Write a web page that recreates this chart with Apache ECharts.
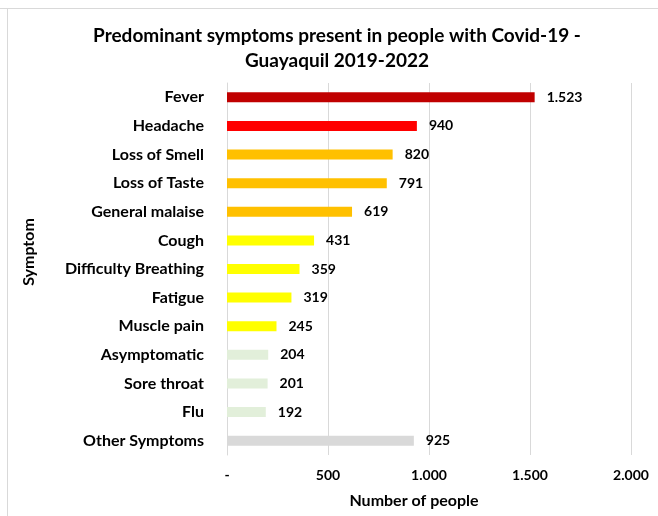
<!DOCTYPE html>
<html><head><meta charset="utf-8">
<script src="https://cdn.jsdelivr.net/npm/echarts@6/dist/echarts.min.js"></script>
<style>html,body{margin:0;padding:0;background:#fff}#c{width:658px;height:516px}</style>
</head><body><div id="c"></div>
<script>
const categories = ["Fever","Headache","Loss of Smell","Loss of Taste","General malaise","Cough","Difficulty Breathing","Fatigue","Muscle pain","Asymptomatic","Sore throat","Flu","Other Symptoms"];
const values = [1523,940,820,791,619,431,359,319,245,204,201,192,925];
const barColors = ["#C00000","#FF0000","#FFC000","#FFC000","#FFC000","#FFFF00","#FFFF00","#FFFF00","#FFFF00","#E2EFDA","#E2EFDA","#E2EFDA","#D9D9D9"];
const xTicks = [0,500,1000,1500,2000];
const titleText = "Predominant symptoms present in people with Covid-19 -\nGuayaquil 2019-2022";
const xName = "Number of people";
const yName = "Symptom";

const FONT = "Lato";
function fmt(v){ if(v===0) return "-"; return String(v).replace(/\B(?=(\d{3})+(?!\d))/g,"."); }

const chart = echarts.init(document.getElementById('c'));
chart.setOption({
  backgroundColor:'#fff',
  animation:false,
  title:{text:titleText,left:332,top:18,textAlign:'center',
    textStyle:{fontFamily:FONT,fontSize:19,fontWeight:'bold',color:'#000',lineHeight:25}},
  grid:{left:227,right:27,top:83,bottom:61,containLabel:false},
  xAxis:{type:'value',min:xTicks[0],max:xTicks[xTicks.length-1],interval:500,
    axisLine:{show:false},axisTick:{show:false},
    splitLine:{show:true,lineStyle:{color:'#D9D9D9',width:1}},
    axisLabel:{formatter:fmt,fontFamily:FONT,fontSize:14,fontWeight:'bold',color:'#000',margin:13},
    name:xName,nameLocation:'middle',nameGap:38,
    nameTextStyle:{fontFamily:FONT,fontSize:16,fontWeight:'bold',color:'#000',padding:[0,30,0,0]}},
  yAxis:{type:'category',data:categories,inverse:true,
    axisLine:{show:true,lineStyle:{color:'#D9D9D9'}},axisTick:{show:false},
    axisLabel:{fontFamily:FONT,fontSize:16,fontWeight:'bold',color:'#000',margin:23},
    name:yName,nameLocation:'middle',nameGap:190,nameRotate:90,
    nameTextStyle:{fontFamily:FONT,fontSize:16,fontWeight:'bold',color:'#000',padding:[0,0,0,34]}},
  series:[{type:'bar',data:values.map((v,i)=>({value:v,itemStyle:{color:barColors[i]}})),
    barWidth:10,
    label:{show:true,position:'right',distance:12,formatter:p=>fmt(p.value),
      fontFamily:FONT,fontSize:14,fontWeight:'bold',color:'#000'}}],
  graphic:[
    {type:'line',shape:{x1:0,y1:8.5,x2:658,y2:8.5},style:{stroke:'#D9D9D9',lineWidth:1}},
    {type:'line',shape:{x1:7.5,y1:8,x2:7.5,y2:516},style:{stroke:'#D9D9D9',lineWidth:1}}
  ]
});
</script></body></html>
